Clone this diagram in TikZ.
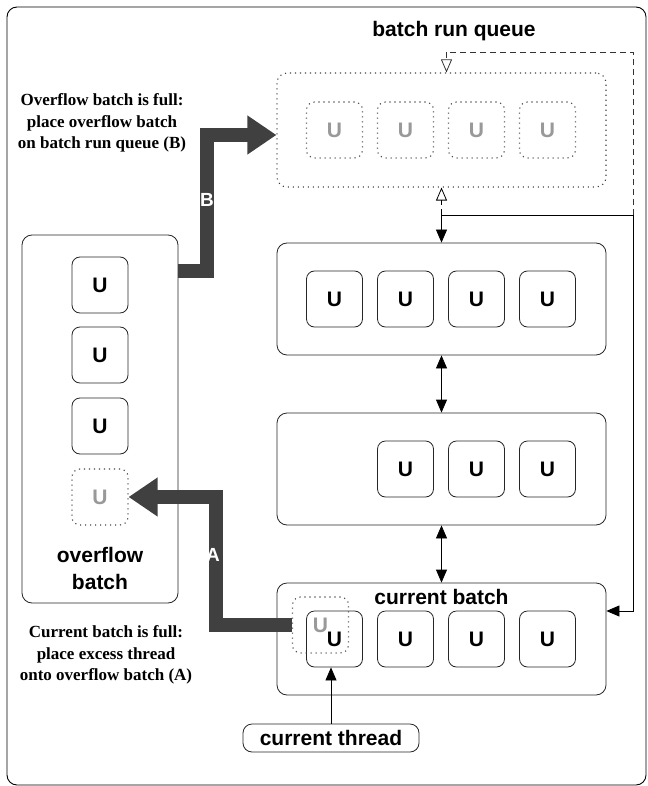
\documentclass[tikz,border=0pt]{standalone}
\usepackage{fontspec}
\setmainfont{Liberation Serif}
\setsansfont{Liberation Sans}
\usepackage{tikz}
\usetikzlibrary{arrows.meta,calc}
\definecolor{bargray}{HTML}{404040}
\definecolor{ghostgray}{HTML}{999999}

\begin{document}
\begin{tikzpicture}[x=1pt,y=-1pt,
  ubox/.style={draw=black!85, line width=0.8pt, rounded corners=8pt, fill=white,
    minimum size=56pt, inner sep=0pt, font=\sffamily\bfseries\fontsize{21}{21}\selectfont},
  dots/.style={line width=1.1pt, dash pattern=on 1.1pt off 3.9pt},
  ughost/.style={ubox, fill=none, draw=black!75, dots, text=ghostgray},
  batchbox/.style={draw=black!85, line width=0.8pt, rounded corners=10pt, fill=white,
    minimum width=329pt, minimum height=112pt, inner sep=0pt},
  biglabel/.style={font=\sffamily\bfseries\fontsize{21}{27}\selectfont, align=center, inner sep=0pt},
  note/.style={font=\rmfamily\bfseries\fontsize{17}{21.5}\selectfont, align=center, inner sep=0pt},
  fatarrow/.style={draw=bargray, line width=14pt, -{Triangle[length=29pt,width=37pt]}},
  barlabel/.style={text=white, font=\sffamily\bfseries\fontsize{19}{19}\selectfont, inner sep=0pt},
  thin/.style={line width=0.8pt},
  tip/.tip={Triangle[length=13pt,width=11pt]},
  opentip/.tip={Triangle[open,length=13pt,width=11pt]}]

\useasboundingbox (0,0) rectangle (647,786);
% Frame
\draw[line width=0.9pt, rounded corners=10pt] (7,7) rectangle (646,785);

% Batch run queue
\node[biglabel] (qlabel) at (454,31) {batch run queue};
\node[batchbox, minimum height=114pt, fill=none, draw=black!75, dots] (queue) at (441.5,130) {};
\foreach \k in {1,...,4}
  \node[ughost] (q\k) at (263.5+71*\k,130) {U};

% Batches
\node[batchbox] (b1) at (441.5,299) {};
\foreach \k in {1,...,4}
  \node[ubox] (b1u\k) at (263.5+71*\k,299) {U};
\node[batchbox] (b2) at (441.5,469) {};
\foreach \k in {2,...,4}
  \node[ubox] (b2u\k) at (263.5+71*\k,469) {U};
\node[batchbox] (cur) at (441.5,639) {};
\node[biglabel] (curlabel) at (441.5,597) {current batch};
\foreach \k in {1,...,4}
  \node[ubox] (cu\k) at (263.5+71*\k,639) {U};
\node[ughost] (ghost) at (320.5,625) {U};

% Overflow batch
\node[batchbox, minimum width=156pt, minimum height=368pt] (ovf) at (100,419) {};
\foreach \k/\yy in {1/285,2/355,3/426}
  \node[ubox] (ov\k) at (100,\yy) {U};
\node[ughost] (ov4) at (100,497) {U};
\node[biglabel] (ovlabel) at (100,568) {overflow\\batch};

% Current thread
\node[draw=black!85, thin, rounded corners=9pt, minimum width=176pt, minimum height=28pt,
  inner sep=0pt, font=\sffamily\bfseries\fontsize{21}{21}\selectfont] (thread) at (331,738) {current thread};
\draw[thin, -tip] (thread.north) -- (thread.north |- cu1.south);

% Links between queue and batches
\coordinate (split) at ($(queue.south)!0.5!(b1.north)$);
\coordinate (rtop) at (633,52);
\draw[thin, -tip] (split) -- (b1.north);
\draw[thin, dash pattern=on 6pt off 4pt, -opentip] (split) -- (queue.south);
\draw[thin, tip-tip] (b1) -- (b2);
\draw[thin, tip-tip] (b2) -- (cur);
\draw[thin, -tip] (split) -- (split -| rtop) |- ([yshift=28pt]cur.east);
\draw[thin, draw=black!80, dash pattern=on 6pt off 4pt, -opentip]
  (split -| rtop) -- (rtop) -| ([xshift=5pt]queue.north);

% Arrow A
\coordinate (abend) at (216,0);
\draw[fatarrow] (ghost.west) -- (ghost.west -| abend) |- (ov4.east);
\node[barlabel] (alabel) at (213,555) {A};

% Arrow B
\coordinate (bbend) at (207,135);
\draw[fatarrow] ([yshift=-36pt]ovf.north east) -| (bbend) -- ([yshift=-5pt]queue.west);
\node[barlabel] (blabel) at (207,200) {B};

% Notes
\node[note] (ovnote) at (102,123) {Overflow batch is full:\\place overflow batch\\on batch run queue (B)};
\node[note] (curnote) at (106,655) {Current batch is full:\\place excess thread\\onto overflow batch (A)};

\end{tikzpicture}
\end{document}
